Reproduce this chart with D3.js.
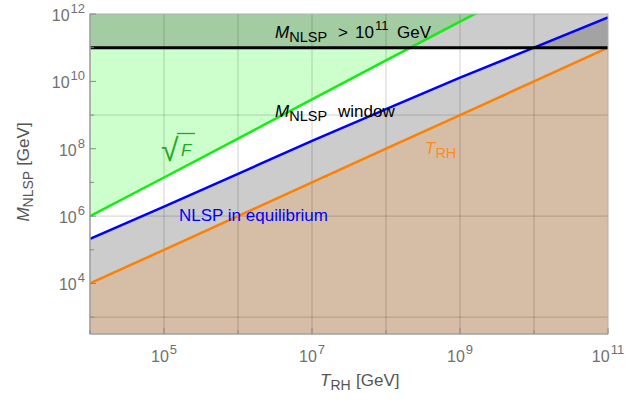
<!DOCTYPE html>
<html>
<head>
<meta charset="utf-8">
<script src="https://cdn.jsdelivr.net/npm/d3@7"></script>
<style>
  body { margin: 0; background: #fff; }
  svg text { font-family: "Liberation Sans", Arial, sans-serif; }
</style>
</head>
<body>
<svg id="chart" width="642" height="401"></svg>
<script>
// reheating temperature grid (GeV)
var tRH = [1e4, 1e5, 1e6, 1e7, 1e8, 1e9, 1e10, 1e11];
// upper edge: sqrt(F) line
var sqrtF = [1.0e6, 1.4e7, 2.0e8, 2.9e9, 4.2e10, 5.9e11, 8.3e12, 1.2e14];
// NLSP in equilibrium boundary
var equil = [2.1e5, 1.9e6, 1.8e7, 1.7e8, 1.5e9, 1.3e10, 1.0e11, 7.9e11];
// M_NLSP = T_RH
var trhLine = [1e4, 1e5, 1e6, 1e7, 1e8, 1e9, 1e10, 1e11];
var mCut = 1e11;

var xTicks = [1e4, 1e5, 1e6, 1e7, 1e8, 1e9, 1e10, 1e11];
var xLabels = [5, 7, 9, 11];
var yTicks = [1e3, 1e4, 1e5, 1e6, 1e7, 1e8, 1e9, 1e10, 1e11, 1e12];
var yLabels = [4, 6, 8, 10, 12];
var yGrid = [1e3, 1e6, 1e9];

var svg = d3.select("#chart");
var margin = { left: 90, right: 34, top: 14, bottom: 67 };
var width = 642 - margin.left - margin.right;
var height = 401 - margin.top - margin.bottom;

var x = d3.scaleLog().domain([1e4, 1e11]).range([0, width]);
var y = d3.scaleLog().domain([Math.pow(10, 2.5), 1e12]).range([height, 0]);

svg.append("defs").append("clipPath").attr("id", "clip")
    .append("rect").attr("width", width).attr("height", height);

var g = svg.append("g").attr("transform", "translate(" + margin.left + "," + margin.top + ")");
var plot = g.append("g").attr("clip-path", "url(#clip)");

var idx = d3.range(tRH.length);

// light green: above sqrt(F)
plot.append("path")
    .datum(idx)
    .attr("fill", "#ccffcc")
    .attr("d", d3.area().x(function (i) { return x(tRH[i]); })
        .y0(function () { return 0; })
        .y1(function (i) { return y(sqrtF[i]); }));

// gray: between T_RH and equilibrium line
plot.append("path")
    .datum(idx)
    .attr("fill", "#cccccc")
    .attr("d", d3.area().x(function (i) { return x(tRH[i]); })
        .y0(function (i) { return y(trhLine[i]); })
        .y1(function (i) { return y(equil[i]); }));

// tan: below T_RH
plot.append("path")
    .datum(idx)
    .attr("fill", "#d6bea6")
    .attr("d", d3.area().x(function (i) { return x(tRH[i]); })
        .y0(height)
        .y1(function (i) { return y(trhLine[i]); }));

// shading above M > 10^11
plot.append("rect")
    .attr("x", 0).attr("y", 0)
    .attr("width", width).attr("height", y(mCut))
    .attr("fill", "#000").attr("fill-opacity", 0.2);

// grid
plot.selectAll(".gx").data(xTicks.slice(1, -1)).enter().append("line")
    .attr("x1", d => x(d)).attr("x2", d => x(d))
    .attr("y1", 0).attr("y2", height)
    .attr("stroke", "#000").attr("stroke-opacity", 0.18).attr("stroke-width", 1);
plot.selectAll(".gy").data(yGrid).enter().append("line")
    .attr("y1", d => y(d)).attr("y2", d => y(d))
    .attr("x1", 0).attr("x2", width)
    .attr("stroke", "#000").attr("stroke-opacity", 0.18).attr("stroke-width", 1);

// lines
var line = function (vals) {
    return d3.line().x(function (i) { return x(tRH[i]); }).y(function (i) { return y(vals[i]); })(idx);
};
plot.append("path").attr("d", line(trhLine)).attr("fill", "none").attr("stroke", "#ff8000").attr("stroke-width", 2.5);
plot.append("path").attr("d", line(equil)).attr("fill", "none").attr("stroke", "#0000ff").attr("stroke-width", 2.5);
plot.append("path").attr("d", line(sqrtF)).attr("fill", "none").attr("stroke", "#11ee11").attr("stroke-width", 2.5);
plot.append("line")
    .attr("x1", 0).attr("x2", width).attr("y1", y(mCut)).attr("y2", y(mCut))
    .attr("stroke", "#000").attr("stroke-width", 3);

// frame
g.append("rect").attr("width", width).attr("height", height)
    .attr("fill", "none").attr("stroke", "#b0b0b0").attr("stroke-width", 1);
g.append("line").attr("x1", 0).attr("x2", 0).attr("y1", 0).attr("y2", height)
    .attr("stroke", "#999").attr("stroke-width", 1.2);
g.append("line").attr("x1", 0).attr("x2", width).attr("y1", height).attr("y2", height)
    .attr("stroke", "#999").attr("stroke-width", 1.2);

// ticks
g.selectAll(".tx").data(xTicks).enter().append("line")
    .attr("x1", d => x(d)).attr("x2", d => x(d))
    .attr("y1", height).attr("y2", d => height - (xLabels.indexOf(Math.round(Math.log10(d))) >= 0 ? 6 : 4))
    .attr("stroke", "#888");
g.selectAll(".ty").data(yTicks).enter().append("line")
    .attr("y1", d => y(d)).attr("y2", d => y(d))
    .attr("x1", 0).attr("x2", d => (yLabels.indexOf(Math.round(Math.log10(d))) >= 0 ? 6 : 4))
    .attr("stroke", "#888");

// tick labels
var tickColor = "#707070";
xLabels.forEach(function (p) {
    var t = g.append("text").attr("x", x(Math.pow(10, p))).attr("y", height + 28)
        .attr("text-anchor", "middle").attr("fill", tickColor).attr("font-size", 16);
    t.append("tspan").text("10");
    t.append("tspan").attr("dx", 1).attr("dy", -8).attr("font-size", 13).text(p);
});
yLabels.forEach(function (p) {
    var t = g.append("text").attr("x", -5).attr("y", y(Math.pow(10, p)) + 7)
        .attr("text-anchor", "end").attr("fill", tickColor).attr("font-size", 16);
    t.append("tspan").text("10");
    t.append("tspan").attr("dx", 1).attr("dy", -8).attr("font-size", 13).text(p);
});

// axis labels
var xl = svg.append("text").attr("x", 320).attr("y", 386).attr("fill", "#555").attr("font-size", 17);
xl.append("tspan").attr("font-style", "italic").text("T");
xl.append("tspan").attr("dy", 4).attr("font-size", 14).text("RH");
xl.append("tspan").attr("dy", -4).attr("x", 356).text("[GeV]");

var yl = svg.append("text").attr("transform", "translate(29,172) rotate(-90)")
    .attr("text-anchor", "middle").attr("fill", "#555").attr("font-size", 17);
yl.append("tspan").attr("font-style", "italic").text("M");
yl.append("tspan").attr("dy", 4).attr("font-size", 14).text("NLSP");
yl.append("tspan").attr("dy", -4).attr("dx", 5).text("[GeV]");

// annotations
var a1 = svg.append("text").attr("x", 275).attr("y", 38).attr("font-size", 17).attr("fill", "#000");
a1.append("tspan").attr("font-style", "italic").text("M");
a1.append("tspan").attr("dy", 4).attr("font-size", 14.5).text("NLSP");
a1.append("tspan").attr("dy", -4).attr("x", 338).text(">");
a1.append("tspan").attr("x", 355).text("10");
a1.append("tspan").attr("dy", -8).attr("dx", 1).attr("font-size", 13).text("11");
a1.append("tspan").attr("dy", 8).attr("x", 397).text("GeV");

var a2 = svg.append("text").attr("x", 275).attr("y", 117).attr("font-size", 17).attr("fill", "#000");
a2.append("tspan").attr("font-style", "italic").text("M");
a2.append("tspan").attr("dy", 4).attr("font-size", 14.5).text("NLSP");
a2.append("tspan").attr("dy", -4).attr("x", 338).text("window");

svg.append("text").attr("x", 179).attr("y", 221).attr("font-size", 17).attr("fill", "#0000ff")
    .text("NLSP in equilibrium");

var a4 = svg.append("text").attr("x", 425).attr("y", 154).attr("font-size", 17).attr("fill", "#ff8c1a");
a4.append("tspan").attr("font-style", "italic").text("T");
a4.append("tspan").attr("dy", 4).attr("font-size", 14.5).text("RH");

// sqrt(F) label
svg.append("text").attr("x", 161).attr("y", 161).attr("font-size", 32).attr("fill", "#22aa22").text("\u221A");
svg.append("text").attr("x", 181).attr("y", 156).attr("font-size", 17).attr("font-style", "italic")
    .attr("fill", "#22aa22").text("F");
svg.append("line").attr("x1", 177).attr("x2", 195).attr("y1", 133.5).attr("y2", 133.5)
    .attr("stroke", "#22aa22").attr("stroke-width", 1.3);
</script>
</body>
</html>
